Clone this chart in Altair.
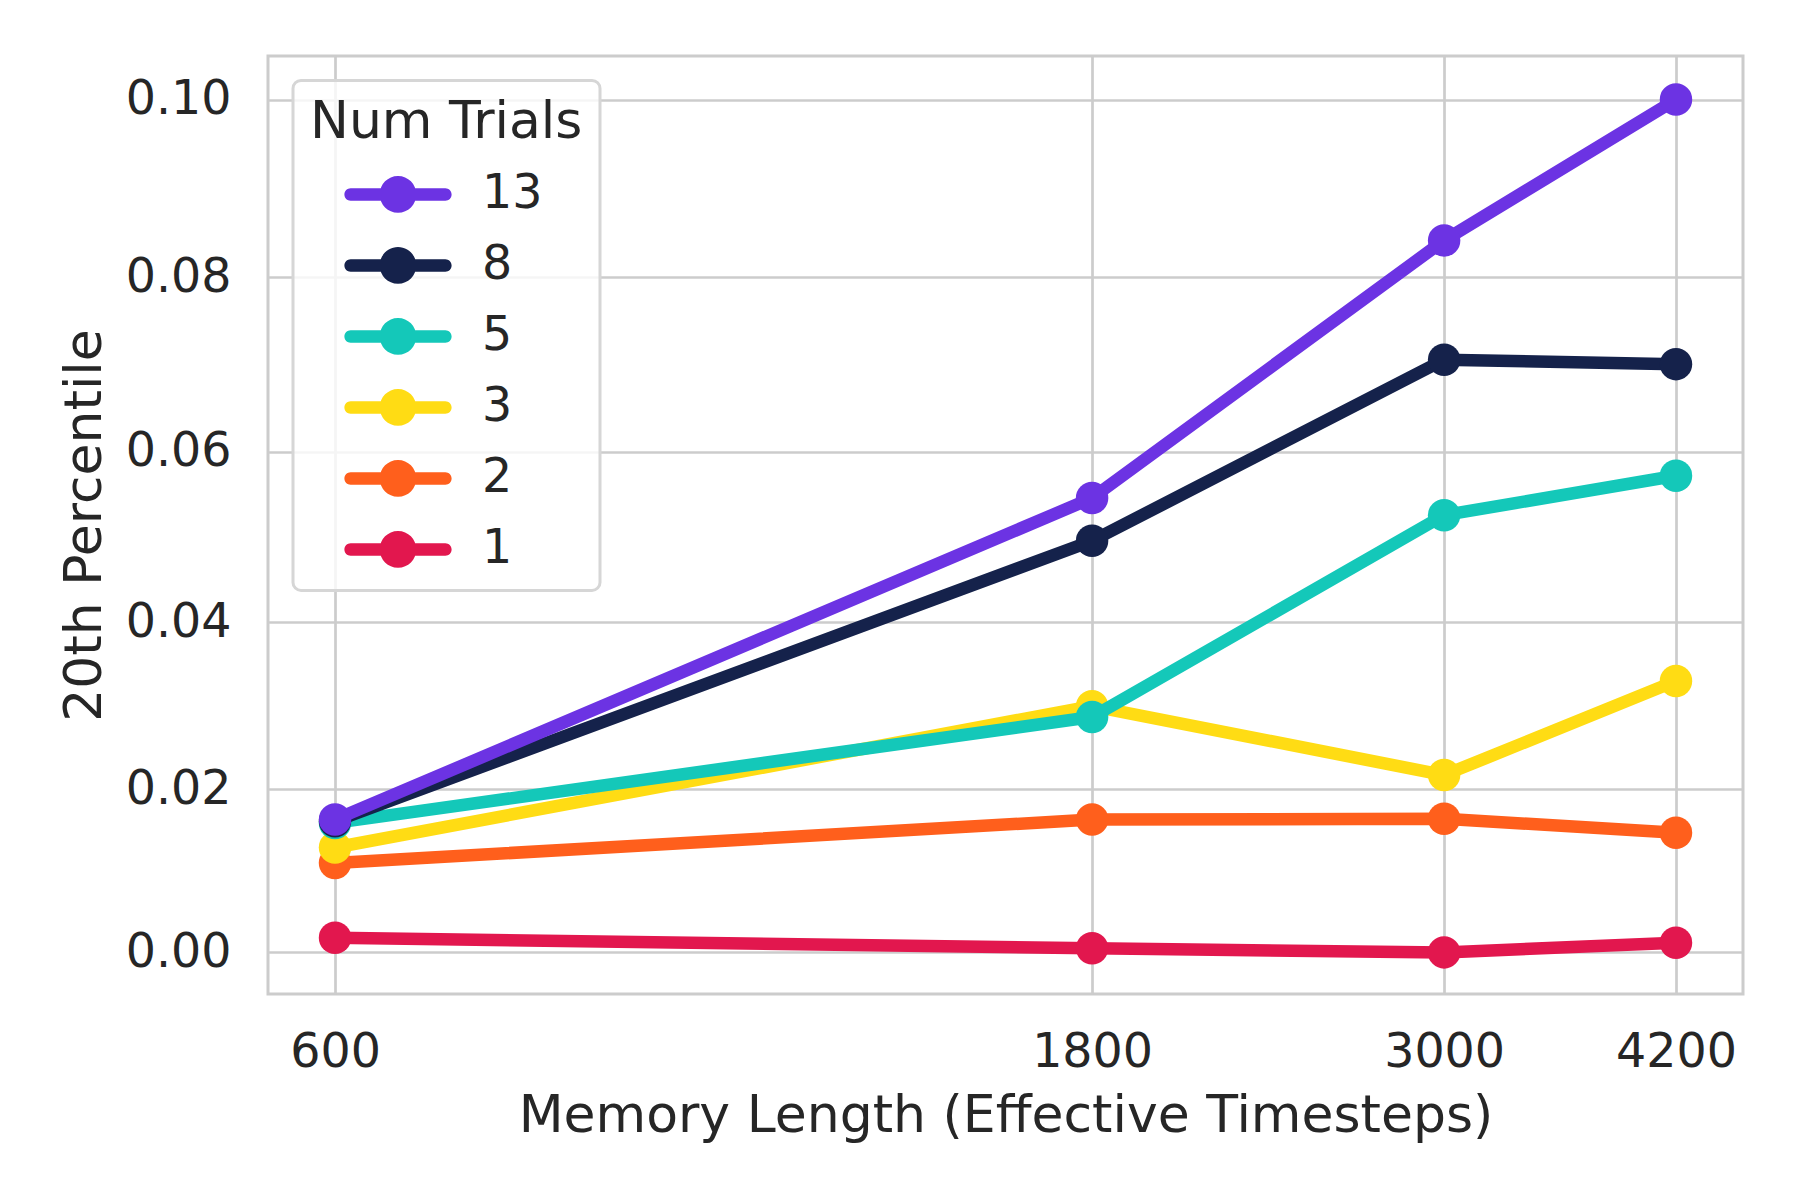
import altair as alt
import pandas as pd

# ---- data ----
memory_lengths = [600, 1800, 3000, 4200]
trial_labels = ["13", "8", "5", "3", "2", "1"]          # legend order
draw_order = ["1", "2", "3", "5", "8", "13"]            # drawing order (last on top)
series_values = {
    "13": [0.0163, 0.0546, 0.0842, 0.1000],
    "8":  [0.0161, 0.0496, 0.0706, 0.0701],
    "5":  [0.0159, 0.0287, 0.0526, 0.0572],
    "3":  [0.0129, 0.0300, 0.0217, 0.0330],
    "2":  [0.0110, 0.0163, 0.0164, 0.0147],
    "1":  [0.0018, 0.0005, 0.0000, 0.0012],
}
series_colors = ["#6C33E3", "#15224B", "#14C8B9", "#FFDC14", "#FF5F1C", "#E2174E"]
x_ticks = [600, 1800, 3000, 4200]
y_ticks = [0.0, 0.02, 0.04, 0.06, 0.08, 0.10]

# the reference's value axis is slightly stretched toward the top;
# it is reproduced with a pow(2) scale on value + Y_SHIFT
Y_SHIFT = 0.885

rows = []
for t in trial_labels:
    for m, v in zip(memory_lengths, series_values[t]):
        rows.append({"memory": m, "value": v, "trials": t})
df = pd.DataFrame(rows)

FONT = "DejaVu Sans"
TXT = "#262626"

x_enc = alt.X(
    "memory:Q",
    scale=alt.Scale(type="log", domain=[544.4, 4629], nice=False),
    axis=alt.Axis(values=x_ticks, format="d", title="Memory Length (Effective Timesteps)",
                  labelPadding=34, titlePadding=15, labelFlush=False, labelOverlap=False),
)
y_enc = alt.Y(
    "yy:Q",
    scale=alt.Scale(type="pow", exponent=2, domain=[0.87983, 0.98984], nice=False, zero=False),
    axis=alt.Axis(values=[round(v + Y_SHIFT, 4) for v in y_ticks],
                  labelExpr=f"format(datum.value - {Y_SHIFT}, '.2f')",
                  title="20th Percentile",
                  labelPadding=37, titlePadding=14, labelOverlap=False),
)

stroke_scale = alt.Scale(domain=draw_order, range=series_colors[::-1])
color_scale = alt.Scale(domain=trial_labels, range=series_colors)

legend_symbol = (
    "M-1.579,-0.208L1.579,-0.208A0.208,0.208,0,0,1,1.579,0.208"
    "L-1.579,0.208A0.208,0.208,0,0,1,-1.579,-0.208Z"
    "M0,-0.61A0.61,0.61,0,1,1,0,0.61A0.61,0.61,0,1,1,0,-0.61Z"
)
legend = alt.Legend(
    title="Num Trials",
    orient="none",
    legendX=25,
    legendY=24.4,
    padding=17,
    fillColor="rgba(255,255,255,0.8)",
    strokeColor="#d6d6d6",
    cornerRadius=8,
    titleFont=FONT,
    titleFontSize=52,
    titleFontWeight="normal",
    titleColor=TXT,
    titlePadding=15,
    titleLimit=1000,
    labelFont=FONT,
    labelFontSize=47.5,
    labelColor=TXT,
    rowPadding=17,
    symbolType=legend_symbol,
    symbolSize=3600,
    symbolOffset=58,
    labelOffset=54,
    symbolStrokeWidth=0,
    symbolOpacity=1,
)

layers = []
for t in draw_order:
    line = (
        alt.Chart()
        .transform_filter(alt.datum.trials == t)
        .mark_line(strokeWidth=12.5, strokeCap="round", strokeJoin="round")
        .encode(x=x_enc, y=y_enc,
                stroke=alt.Stroke("trials:N", scale=stroke_scale, legend=None))
    )
    pts = (
        alt.Chart()
        .transform_filter(alt.datum.trials == t)
        .mark_circle(size=1055, opacity=1)
        .encode(x=x_enc, y=y_enc,
                color=alt.Color("trials:N", scale=color_scale, legend=legend))
    )
    layers += [line, pts]

chart = (
    alt.layer(*layers, data=df)
    .transform_calculate(yy=f"datum.value + {Y_SHIFT}")
    .properties(
        width=1475,
        height=938,
        autosize=alt.AutoSizeParams(type="none"),
        padding={"left": 260, "top": 48, "right": 49, "bottom": 198},
        background="white",
    )
    .configure_view(stroke="#cccccc", strokeWidth=3, fill="white")
    .configure_legend(strokeWidth=3)
    .configure_axis(
        domain=False,
        ticks=False,
        grid=True,
        gridColor="#cccccc",
        gridWidth=2.7,
        labelFont=FONT,
        labelFontSize=47.5,
        labelColor=TXT,
        titleFont=FONT,
        titleFontSize=52,
        titleFontWeight="normal",
        titleColor=TXT,
    )
)

chart.save("out.html", embed_options={"renderer": "svg", "actions": False})
